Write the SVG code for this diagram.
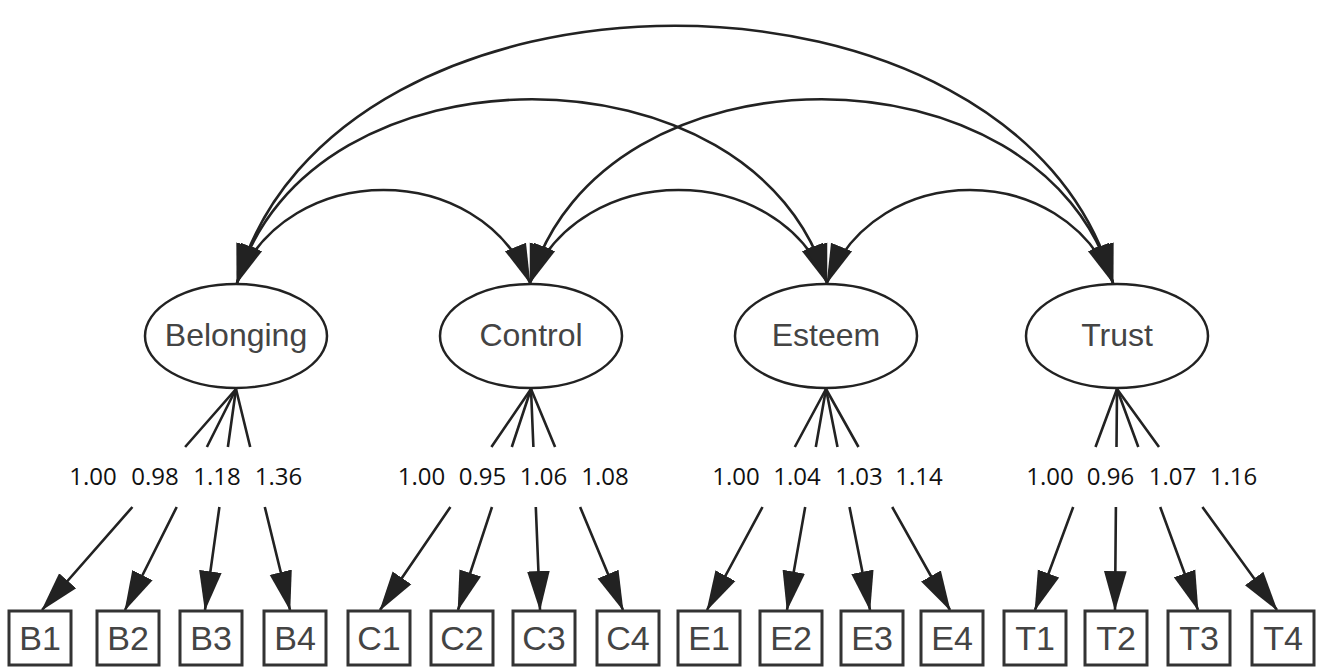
<svg xmlns="http://www.w3.org/2000/svg" width="1317" height="667" viewBox="0 0 1317 667">
<style>
.lat{fill:#fff;stroke:#222;stroke-width:2.5}
.latt{font-family:"Liberation Sans",Arial,sans-serif;font-size:32px;fill:#444;text-anchor:middle}
.box{fill:#fff;stroke:#333;stroke-width:3}
.boxt{font-family:"Liberation Sans",Arial,sans-serif;font-size:34px;fill:#444;text-anchor:middle}
.cov{fill:none;stroke:#222;stroke-width:2.6;marker-start:url(#ah);marker-end:url(#ah)}
.ld{fill:none;stroke:#222;stroke-width:2.6;marker-end:url(#ah)}
.num{font-family:"Open Sans","Noto Sans",sans-serif;font-size:24px;fill:#111;text-anchor:middle}
</style>
<defs>
<marker id="ah" markerUnits="userSpaceOnUse" markerWidth="40" markerHeight="24" viewBox="0 0 37 21" refX="36" refY="10.5" orient="auto-start-reverse">
<path d="M0,0 L37,10.5 L0,21 Z" fill="#222"/>
</marker>
</defs>
<rect width="1317" height="667" fill="#fff"/>
<g id="connectors">
<path class="cov" d="M237,283 C287,159 480,159 530,283"/>
<path class="cov" d="M530,283 C580,159 777,159 827,283"/>
<path class="cov" d="M827,283 C877,159 1063,159 1113,283"/>
<path class="cov" d="M237,283 C307,38 757,38 827,283"/>
<path class="cov" d="M530,283 C600,38 1043,38 1113,283"/>
<path class="cov" d="M237,283 C332,-60 1018,-60 1113,283"/>
<path class="ld" d="M236,389 L185.1,447 M132.4,507 L42,610"/>
<path class="ld" d="M236,389 L206.9,447 M176.7,507 L125,610"/>
<path class="ld" d="M236,389 L227.9,447 M219.4,507 L205,610"/>
<path class="ld" d="M236,389 L250.2,447 M264.8,507 L290,610"/>
<path class="ld" d="M531,389 L491.4,447 M450.4,507 L380,610"/>
<path class="ld" d="M531,389 L511.8,447 M492,507 L458,610"/>
<path class="ld" d="M531,389 L533.4,447 M535.8,507 L540,610"/>
<path class="ld" d="M531,389 L555.1,447 M580.1,507 L623,610"/>
<path class="ld" d="M826,389 L794.8,447 M762.5,507 L707,610"/>
<path class="ld" d="M826,389 L815.8,447 M805.2,507 L787,610"/>
<path class="ld" d="M826,389 L837.5,447 M849.5,507 L870,610"/>
<path class="ld" d="M826,389 L858.5,447 M892.2,507 L950,610"/>
<path class="ld" d="M1117,389 L1095.5,447 M1073.2,507 L1035,610"/>
<path class="ld" d="M1117,389 L1116.5,447 M1115.9,507 L1115,610"/>
<path class="ld" d="M1117,389 L1138.3,447 M1160.2,507 L1198,610"/>
<path class="ld" d="M1117,389 L1159,447 M1202.4,507 L1277,610"/>
</g>
<g id="loadings">
<text class="num" x="93" y="485">1.00</text>
<text class="num" x="155" y="485">0.98</text>
<text class="num" x="217" y="485">1.18</text>
<text class="num" x="278.5" y="485">1.36</text>
<text class="num" x="421.5" y="485">1.00</text>
<text class="num" x="482.5" y="485">0.95</text>
<text class="num" x="543.5" y="485">1.06</text>
<text class="num" x="605" y="485">1.08</text>
<text class="num" x="736" y="485">1.00</text>
<text class="num" x="797" y="485">1.04</text>
<text class="num" x="859" y="485">1.03</text>
<text class="num" x="919" y="485">1.14</text>
<text class="num" x="1050" y="485">1.00</text>
<text class="num" x="1110.5" y="485">0.96</text>
<text class="num" x="1172.5" y="485">1.07</text>
<text class="num" x="1233.5" y="485">1.16</text>
</g>
<g id="Belonging"><ellipse class="lat" cx="236" cy="336" rx="91" ry="52"/><text class="latt" x="236" y="346">Belonging</text></g>
<g id="Control"><ellipse class="lat" cx="531" cy="336" rx="91" ry="52"/><text class="latt" x="531" y="346">Control</text></g>
<g id="Esteem"><ellipse class="lat" cx="826" cy="336" rx="91" ry="52"/><text class="latt" x="826" y="346">Esteem</text></g>
<g id="Trust"><ellipse class="lat" cx="1117" cy="336" rx="91" ry="52"/><text class="latt" x="1117" y="346">Trust</text></g>
<g id="B1"><rect class="box" x="9" y="611" width="62" height="54"/><text class="boxt" x="40" y="650">B1</text></g>
<g id="B2"><rect class="box" x="97" y="611" width="62" height="54"/><text class="boxt" x="128" y="650">B2</text></g>
<g id="B3"><rect class="box" x="180" y="611" width="62" height="54"/><text class="boxt" x="211" y="650">B3</text></g>
<g id="B4"><rect class="box" x="264" y="611" width="62" height="54"/><text class="boxt" x="295" y="650">B4</text></g>
<g id="C1"><rect class="box" x="348" y="611" width="62" height="54"/><text class="boxt" x="379" y="650">C1</text></g>
<g id="C2"><rect class="box" x="431" y="611" width="62" height="54"/><text class="boxt" x="462" y="650">C2</text></g>
<g id="C3"><rect class="box" x="513" y="611" width="62" height="54"/><text class="boxt" x="544" y="650">C3</text></g>
<g id="C4"><rect class="box" x="597" y="611" width="62" height="54"/><text class="boxt" x="628" y="650">C4</text></g>
<g id="E1"><rect class="box" x="678" y="611" width="62" height="54"/><text class="boxt" x="709" y="650">E1</text></g>
<g id="E2"><rect class="box" x="760" y="611" width="62" height="54"/><text class="boxt" x="791" y="650">E2</text></g>
<g id="E3"><rect class="box" x="841" y="611" width="62" height="54"/><text class="boxt" x="872" y="650">E3</text></g>
<g id="E4"><rect class="box" x="921" y="611" width="62" height="54"/><text class="boxt" x="952" y="650">E4</text></g>
<g id="T1"><rect class="box" x="1004" y="611" width="62" height="54"/><text class="boxt" x="1035" y="650">T1</text></g>
<g id="T2"><rect class="box" x="1085" y="611" width="62" height="54"/><text class="boxt" x="1116" y="650">T2</text></g>
<g id="T3"><rect class="box" x="1168" y="611" width="62" height="54"/><text class="boxt" x="1199" y="650">T3</text></g>
<g id="T4"><rect class="box" x="1252" y="611" width="62" height="54"/><text class="boxt" x="1283" y="650">T4</text></g>
</svg>
